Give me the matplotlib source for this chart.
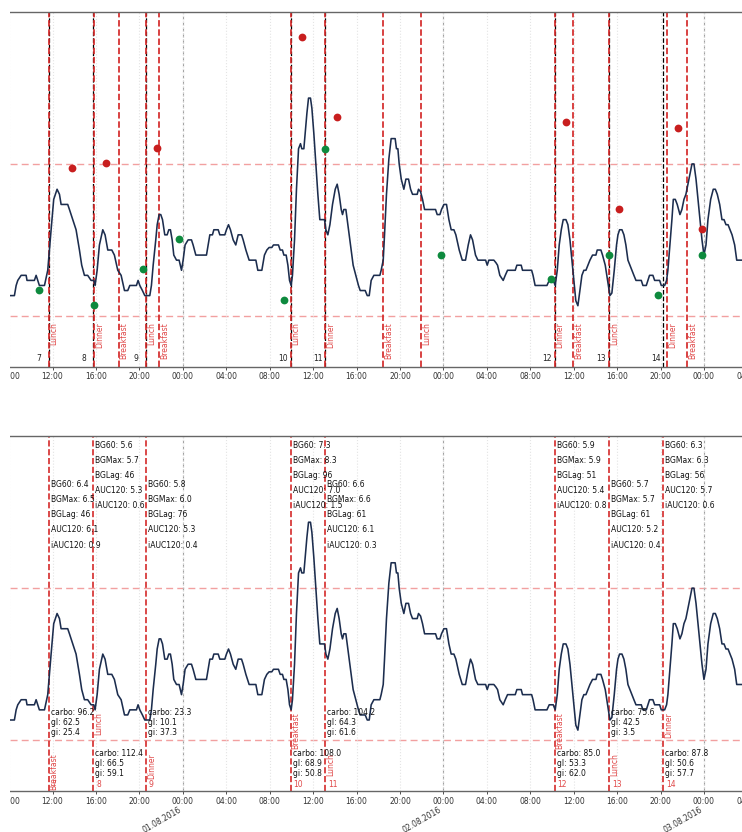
import matplotlib
matplotlib.use('Agg')
import matplotlib.pyplot as plt
import matplotlib.dates as mdates
import matplotlib.transforms as mtransforms
from matplotlib.patches import Rectangle
import numpy as np
import pandas as pd

BASE = pd.Timestamp('2016-08-01 00:00')

# CGM trace: hours relative to 01.08.2016 00:00, glucose in mmol/L
bg_hours = [-16.10, -15.51, -15.35, -15.20, -14.89, -14.43, -14.35, -13.67, -13.51, -13.36,
            -13.21, -12.74, -12.44, -12.29, -12.13, -11.89, -11.58, -11.36, -11.21, -10.60,
            -10.44, -10.14, -9.83, -9.52, -9.31, -9.06, -8.76, -8.45, -8.20, -8.08,
            -7.89, -7.68, -7.37, -7.16, -6.91, -6.54, -6.30, -5.99, -5.68, -5.37,
            -5.07, -4.88, -4.27, -4.12, -3.96, -3.72, -3.50, -3.04, -2.89, -2.73,
            -2.49, -2.36, -2.18, -2.03, -1.87, -1.66, -1.44, -1.29, -1.14, -0.98,
            -0.83, -0.58, -0.34, -0.12, 0.03, 0.21, 0.49, 0.80, 0.95, 1.20,
            2.18, 2.49, 2.73, 2.86, 3.26, 3.41, 3.87, 4.02, 4.21, 4.39,
            4.64, 4.88, 5.10, 5.41, 5.56, 5.81, 6.11, 6.73, 6.91, 7.28,
            7.52, 7.74, 7.95, 8.20, 8.35, 8.81, 8.97, 9.18, 9.31, 9.52,
            9.68, 9.83, 9.98, 10.10, 10.29, 10.47, 10.66, 10.84, 10.96, 11.15,
            11.27, 11.43, 11.58, 11.76, 11.89, 12.07, 12.25, 12.44, 12.62, 12.93,
            13.05, 13.18, 13.36, 13.55, 13.79, 14.04, 14.22, 14.40, 14.59, 14.71,
            14.83, 15.02, 15.20, 15.45, 15.69, 15.94, 16.18, 16.34, 16.80, 16.99,
            17.17, 17.35, 17.60, 18.15, 18.27, 18.46, 18.58, 18.76, 18.98, 19.19,
            19.32, 19.56, 19.68, 19.81, 19.93, 20.12, 20.36, 20.55, 20.79, 20.98,
            21.16, 21.59, 21.71, 21.90, 22.08, 22.27, 23.28, 23.43, 23.68, 23.83,
            24.05, 24.29, 24.51, 24.72, 24.97, 25.15, 25.46, 25.74, 26.04, 26.29,
            26.50, 26.69, 26.96, 27.18, 27.89, 28.04, 28.19, 28.65, 28.84, 28.99,
            29.20, 29.51, 29.70, 29.91, 30.62, 30.77, 31.17, 31.29, 32.13, 32.26,
            32.45, 33.54, 33.75, 34.12, 34.30, 34.49, 34.67, 34.86, 35.04, 35.29,
            35.47, 35.66, 35.84, 36.02, 36.20, 36.39, 36.58, 36.76, 36.94, 37.13,
            37.31, 37.50, 37.74, 38.05, 38.17, 38.51, 38.66, 38.91, 39.12, 39.34,
            39.52, 39.74, 39.95, 40.08, 40.23, 40.45, 40.63, 40.81, 41.00, 41.18,
            41.37, 41.55, 41.74, 42.23, 42.38, 42.69, 42.84, 42.99, 43.30, 43.46,
            43.92, 44.07, 44.38, 44.56, 44.68, 44.87, 45.05, 45.18, 45.36, 45.54,
            45.79, 45.97, 46.16, 46.34, 46.53, 46.71, 46.90, 47.08, 47.27, 47.45,
            47.64, 47.82, 48.00, 48.19, 48.37, 48.62, 48.86, 49.05, 49.23, 49.45,
            49.66, 49.85, 50.03, 50.22, 50.40, 50.59, 50.83, 51.02, 51.60]
bg_values = [4.4, 4.4, 4.6, 4.7, 4.8, 4.8, 4.7, 4.7, 4.8, 4.7,
             4.6, 4.6, 4.9, 5.3, 5.7, 6.3, 6.5, 6.4, 6.2, 6.2,
             6.1, 5.9, 5.7, 5.3, 5.0, 4.8, 4.8, 4.7, 4.7, 4.6,
             4.9, 5.4, 5.7, 5.6, 5.3, 5.3, 5.2, 4.9, 4.8, 4.5,
             4.5, 4.6, 4.6, 4.7, 4.6, 4.5, 4.4, 4.4, 4.6, 5.0,
             5.5, 5.8, 6.0, 6.0, 5.9, 5.6, 5.6, 5.7, 5.7, 5.5,
             5.2, 5.1, 5.1, 4.9, 5.1, 5.4, 5.5, 5.5, 5.4, 5.2,
             5.2, 5.6, 5.6, 5.7, 5.7, 5.6, 5.6, 5.7, 5.8, 5.7,
             5.5, 5.4, 5.6, 5.6, 5.5, 5.3, 5.1, 5.1, 4.9, 4.9,
             5.2, 5.3, 5.35, 5.35, 5.4, 5.4, 5.3, 5.3, 5.2, 5.2,
             5.0, 4.7, 4.6, 4.8, 5.5, 6.5, 7.3, 7.4, 7.3, 7.3,
             7.6, 8.0, 8.3, 8.3, 8.1, 7.6, 7.0, 6.4, 5.9, 5.9,
             5.9, 5.7, 5.6, 5.8, 6.2, 6.5, 6.6, 6.4, 6.1, 6.0,
             6.1, 6.1, 5.8, 5.4, 5.0, 4.8, 4.6, 4.5, 4.5, 4.4,
             4.4, 4.7, 4.8, 4.8, 4.9, 5.1, 5.6, 6.4, 7.1, 7.5,
             7.5, 7.5, 7.3, 7.3, 7.0, 6.7, 6.5, 6.7, 6.7, 6.5,
             6.4, 6.4, 6.5, 6.45, 6.3, 6.1, 6.1, 6.0, 6.0, 6.1,
             6.2, 6.2, 5.9, 5.7, 5.7, 5.6, 5.3, 5.1, 5.1, 5.4,
             5.6, 5.5, 5.2, 5.1, 5.1, 5.0, 5.1, 5.1, 5.05, 5.0,
             4.8, 4.7, 4.8, 4.9, 4.9, 5.0, 5.0, 4.9, 4.9, 4.8,
             4.6, 4.6, 4.7, 4.7, 4.6, 4.9, 5.4, 5.7, 5.9, 5.9,
             5.8, 5.5, 5.1, 4.7, 4.3, 4.2, 4.5, 4.8, 4.9, 4.9,
             5.0, 5.1, 5.2, 5.2, 5.3, 5.3, 5.2, 5.0, 4.7, 4.4,
             4.45, 4.9, 5.4, 5.6, 5.7, 5.7, 5.6, 5.4, 5.1, 5.0,
             4.9, 4.8, 4.7, 4.7, 4.6, 4.6, 4.7, 4.8, 4.8, 4.7,
             4.7, 4.6, 4.6, 4.7, 4.9, 5.4, 5.9, 6.3, 6.3, 6.2,
             6.0, 6.1, 6.3, 6.4, 6.6, 6.8, 7.0, 7.0, 6.7, 6.3,
             5.9, 5.5, 5.2, 5.4, 5.9, 6.3, 6.5, 6.5, 6.4, 6.2,
             5.9, 5.9, 5.8, 5.8, 5.7, 5.6, 5.4, 5.1, 5.1]

# recorded meals (lower panel, black lines in upper panel)
meal_hours = [-12.35, -8.23, -3.41, 9.92, 13.11, 34.25, 39.25, 44.25]
meal_ids = [7, 8, 9, 10, 11, 12, 13, 14]
meal_types = ['Breakfast', 'Lunch', 'Dinner', 'Breakfast', 'Lunch', 'Breakfast', 'Lunch', 'Dinner']
carbo = [96.2, 112.4, 23.3, 108.0, 104.2, 85.0, 75.6, 87.8]
gl = [62.5, 66.5, 10.1, 68.9, 64.3, 53.3, 42.5, 50.6]
gi = [25.4, 59.1, 37.3, 50.8, 61.6, 62.0, 3.5, 57.7]
bg60 = [6.4, 5.6, 5.8, 7.3, 6.6, 5.9, 5.7, 6.3]
bgmax = [6.5, 5.7, 6.0, 8.3, 6.6, 5.9, 5.7, 6.3]
bglag = [46, 46, 76, 96, 61, 51, 61, 56]
auc120 = [6.1, 5.3, 5.3, 7.0, 6.1, 5.4, 5.2, 5.7]
iauc120 = [0.9, 0.6, 0.4, 1.5, 0.3, 0.8, 0.4, 0.6]

# detected meals (upper panel, red lines)
det_hours = [-12.35, -8.17, -5.90, -3.41, -2.21, 9.92, 13.11, 18.45, 21.93,
             34.25, 35.96, 39.25, 44.59, 46.46]
det_types = ['Lunch', 'Dinner', 'Breakfast', 'Lunch', 'Breakfast', 'Lunch', 'Dinner',
             'Breakfast', 'Lunch', 'Dinner', 'Breakfast', 'Lunch', 'Dinner', 'Breakfast']

red_hours = [-10.16, -7.07, -2.40, 10.99, 14.16, 35.31, 40.14, 45.63, 47.79]
red_values = [6.92, 7.02, 7.31, 9.51, 7.92, 7.82, 6.11, 7.71, 5.71]
green_hours = [-13.20, -8.17, -3.71, -0.34, 9.28, 13.11, 23.80, 33.93, 39.28, 43.79, 47.79]
green_values = [4.51, 4.22, 4.93, 5.52, 4.31, 7.30, 5.21, 4.73, 5.21, 4.42, 5.21]

hypo_level, hyper_level = 4.0, 7.0
midnights = ['2016-08-01', '2016-08-02', '2016-08-03']
date_labels = ['01.08.2016', '02.08.2016', '03.08.2016']

T0 = mdates.date2num(BASE)
def tnum(h):
    return T0 + np.asarray(h, dtype=float) / 24.0

W, H = 742, 832
fig = plt.figure(figsize=(W / 100, H / 100), dpi=100)
X0, S = 182.8, 10.857        # pixel of 01.08 00:00, pixels per hour
HL, HR = -20, 53             # visible hour range
xl, xr = X0 + S * HL, X0 + S * HR

def px_axes(y0, y1):
    return fig.add_axes([xl / W, 1 - y1 / H, (xr - xl) / W, (y1 - y0) / H])

ax1 = px_axes(12, 366.5)
ax2 = px_axes(436, 791)

FS = 5.5
LINE_RED = '#d42a2a'
TEXT_RED = '#e04848'

def offset(ax, dx_px, dy_px=0):
    return mtransforms.offset_copy(ax.transData, fig=fig, x=dx_px * 0.72, y=dy_px * 0.72, units='points')

for ax in (ax1, ax2):
    ax.set_xlim(tnum(HL), tnum(HR))
    ax.set_ylim(3, 10)
    ax.plot(tnum(bg_hours), bg_values, color='#1c2d4e', lw=1.15, zorder=3)
    for lvl in (hypo_level, hyper_level):
        ax.axhline(lvl, color='#f2a0a0', ls=(0, (5, 3)), lw=1.0, zorder=1)
    ax.xaxis.set_major_locator(mdates.HourLocator(byhour=range(0, 24, 4)))
    ax.xaxis.set_major_formatter(mdates.DateFormatter('%H:%M'))
    ax.grid(axis='x', which='major', color='#e4e4e4', ls=':', lw=0.8)
    for m in midnights:
        ax.axvline(mdates.date2num(pd.Timestamp(m)), color='#a0a0a0', ls='--', lw=0.8, zorder=1.5)
    ax.tick_params(axis='x', labelsize=FS, colors='#333333', length=2, width=0.6, pad=2)
    ax.tick_params(axis='y', left=False, labelleft=False)
    for sp in ('top', 'bottom'):
        ax.spines[sp].set_color('#666666')
        ax.spines[sp].set_linewidth(1.0)

# ---- upper panel ----
for h in meal_hours:
    ax1.axvline(tnum(h), color='black', ls='--', lw=0.9, zorder=2)
for h, lab in zip(det_hours, det_types):
    ax1.axvline(tnum(h), color=LINE_RED, ls='--', lw=1.25, zorder=2.5)
    ax1.text(tnum(h), 3.87, lab, rotation=90, ha='left', va='top', fontsize=FS,
             color=TEXT_RED, transform=offset(ax1, 1.0))
for h, mid in zip(meal_hours, meal_ids):
    ax1.text(tnum(h), 3.16, str(mid), ha='left', va='center', fontsize=FS,
             color='#222222', transform=offset(ax1, -12.4))
ax1.plot(tnum(red_hours), red_values, 'o', color='#c81e1e', ms=5.6, mec='none', zorder=4)
ax1.plot(tnum(green_hours), green_values, 'o', color='#0e8a3e', ms=5.6, mec='none', zorder=4)

# ---- lower panel ----
for i, h in enumerate(meal_hours):
    t = tnum(h)
    ax2.axvline(t, color=LINE_RED, ls='--', lw=1.2, zorder=2.5)
    odd = (i % 2 == 1)
    y_bg = 9.82 if odd else 9.05
    y_carb = 3.74 if odd else 4.54
    y_lab = 4.56 if odd else 3.75
    bg_lines = [f'BG60: {bg60[i]:.1f}', f'BGMax: {bgmax[i]:.1f}', f'BGLag: {bglag[i]}',
                f'AUC120: {auc120[i]:.1f}', f'iAUC120: {iauc120[i]:.1f}']
    for k, s in enumerate(bg_lines):
        ax2.text(t, y_bg - 0.3 * k, s, ha='left', va='center', fontsize=FS,
                 color='#111111', transform=offset(ax2, 2), zorder=5)
    c_lines = [f'carbo: {carbo[i]:.1f}', f'gl: {gl[i]:.1f}', f'gi: {gi[i]:.1f}']
    for k, s in enumerate(c_lines):
        ax2.text(t, y_carb - 0.197 * k, s, ha='left', va='center', fontsize=FS,
                 color='#111111', transform=offset(ax2, 2), zorder=5)
    ax2.text(t, y_lab, meal_types[i], rotation=90, ha='left', va='top', fontsize=FS,
             color=TEXT_RED, transform=offset(ax2, 1.0), zorder=5)
    ax2.text(t, 3.13, str(meal_ids[i]), ha='left', va='center', fontsize=FS,
             color=TEXT_RED, transform=offset(ax2, 3), zorder=5)

xtrans = mtransforms.blended_transform_factory(ax2.transData, ax2.transAxes)
for m, lab in zip(midnights, date_labels):
    ax2.annotate(lab, xy=(mdates.date2num(pd.Timestamp(m)), 0), xycoords=xtrans,
                 xytext=(0, -10.5), textcoords='offset points', ha='right', va='top',
                 rotation=30, fontsize=FS, color='#333333', annotation_clip=False)

# the reference image is cropped at the left edge
fig.add_artist(Rectangle((0, 0), 9.5 / W, 1, transform=fig.transFigure,
                         facecolor='white', edgecolor='none', zorder=100))

fig.savefig('out.png', dpi=100)
